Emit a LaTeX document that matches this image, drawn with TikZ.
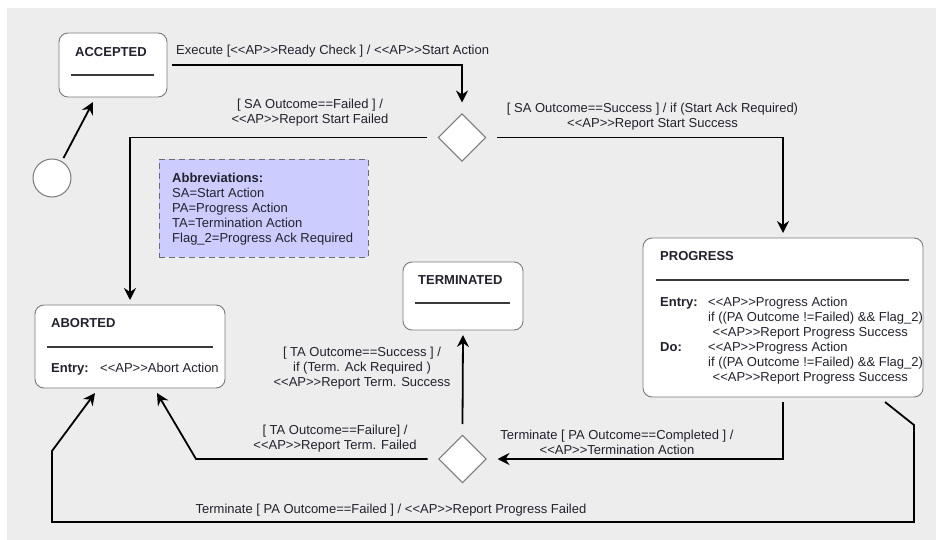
\documentclass[tikz,border=0pt]{standalone}
\usepackage{fontspec}
\setmainfont{Liberation Sans}
\usetikzlibrary{arrows.meta,shapes.geometric}

\definecolor{bg}{HTML}{EDEDED}
\definecolor{txt}{HTML}{22222E}
\definecolor{boxline}{HTML}{7A7A7A}
\definecolor{sepline}{HTML}{3A3A3A}
\definecolor{abbrfill}{HTML}{CCCCFF}
\definecolor{abbrline}{HTML}{6E6E6E}

\newcommand\lblfont{\fontsize{13}{15}\selectfont}
\newcommand\ap{<\kern0pt<AP>\kern0pt>}

\begin{document}
\begin{tikzpicture}[x=1pt,y=-1pt,
    statebox/.style={draw=boxline, fill=white, rounded corners=9pt, line width=0.9pt, inner sep=0pt, outer sep=5pt},
    choicebox/.style={diamond, draw=boxline, fill=white, line width=1pt, minimum size=54pt, inner sep=0pt, outer sep=8pt},
    initstate/.style={circle, draw=boxline, fill=white, line width=1pt, minimum size=38pt, inner sep=0pt, outer sep=4pt},
    abbrbox/.style={draw=abbrline, fill=abbrfill, dash pattern=on 6pt off 4pt, line width=0.9pt, inner sep=0pt},
    sep/.style={draw=sepline, line width=1.2pt},
    arr/.style={draw=black, line width=1.8pt, -{Stealth[length=12pt,width=12pt,inset=4pt]}},
    lbl/.style={text=txt, inner sep=0pt, font=\lblfont},
    stitle/.style={lbl, font=\lblfont\bfseries}]
    \useasboundingbox (0,0) rectangle (936,540);
    \fill[bg] (7,8) rectangle (936,540);

    % states
    \node[initstate] (init) at (52,178) {};
    \node[statebox, minimum width=108pt, minimum height=64pt] (accepted) at (113,65) {};
    \node[statebox, minimum width=190pt, minimum height=83pt] (aborted) at (130,346.5) {};
    \node[statebox, minimum width=280pt, minimum height=159pt] (progress) at (783,317.5) {};
    \node[statebox, minimum width=120pt, minimum height=68pt] (terminated) at (463,296) {};
    \node[choicebox] (dec1) at (462,137.5) {};
    \node[choicebox] (dec2) at (462.5,459) {};
    \node[abbrbox, minimum width=209pt, minimum height=98pt] (abbr) at (263.5,208) {};

    % state texts
    \node[stitle, anchor=base west] (accT) at (75,56.5) {ACCEPTED};
    \draw[sep] (71,75) -- (154,75);
    \node[stitle, anchor=base west] (abT) at (51,327.5) {ABORTED};
    \draw[sep] (47,347) -- (213,347);
    \node[stitle, anchor=base west] (abE) at (51,372.5) {Entry:};
    \node[lbl, anchor=base west] (abE1) at (100,372.5) {\ap Abort Action};
    \node[stitle, anchor=base west] (termT) at (418,284.5) {TERMINATED};
    \draw[sep] (415,303) -- (510,303);
    \node[stitle, anchor=base west] (progT) at (660,260.5) {PROGRESS};
    \draw[sep] (656,280) -- (909,280);
    \node[stitle, anchor=base west] (progE) at (660,306.5) {Entry:};
    \node[lbl, anchor=base west] (progE1) at (708,306.5) {\ap Progress Action};
    \node[lbl, anchor=base west] (progE2) at (708,321.5) {if ((PA Outcome !=Failed) \&\& Flag\_2)};
    \node[lbl, anchor=base west] (progE3) at (712.5,336.5) {\ap Report Progress Success};
    \node[stitle, anchor=base west] (progD) at (660,351.5) {Do:};
    \node[lbl, anchor=base west] (progD1) at (708,351.5) {\ap Progress Action};
    \node[lbl, anchor=base west] (progD2) at (708,366.5) {if ((PA Outcome !=Failed) \&\& Flag\_2)};
    \node[lbl, anchor=base west] (progD3) at (712.5,381.5) {\ap Report Progress Success};

    % abbreviations
    \node[stitle, anchor=base west] (abbrT) at (172,182.5) {Abbreviations:};
    \node[lbl, anchor=base west] (abbr1) at (172,197.5) {SA=Start Action};
    \node[lbl, anchor=base west] (abbr2) at (172,212.5) {PA=Progress Action};
    \node[lbl, anchor=base west] (abbr3) at (172,227.5) {TA=Termination Action};
    \node[lbl, anchor=base west] (abbr4) at (172,242.5) {Flag\_2=Progress Ack Required};

    % bend points
    \coordinate (k1) at (196,459);
    \coordinate (k2) at (914,425);
    \coordinate (k3) at (914,522);
    \coordinate (k4) at (52,522);
    \coordinate (k5) at (52,451);

    % transitions
    \draw[arr] (init.60) -- ([xshift=-20pt]accepted.south);
    \draw[arr] (accepted.east) -| (dec1.north);
    \draw[arr] (dec1.west) -| (aborted.north);
    \draw[arr] (dec1.east) -| (progress.north);
    \draw[arr] (progress.south) |- (dec2.east);
    \draw[arr] (dec2.north) -- (terminated.south);
    \draw[arr] (dec2.west) -- (k1) -- ([xshift=27pt]aborted.south);
    \draw[arr] ([xshift=102pt]progress.south) -- (k2) -- (k3) -- (k4) -- (k5) -- ([xshift=-35pt]aborted.south);

    % transition labels
    \node[lbl, anchor=base west] (lExec) at (176,55) {Execute [\ap Ready Check ] / \ap Start Action};
    \node[lbl, align=center] (lSAfail) at (310,113) {[ SA Outcome==Failed ] /\\\ap Report Start Failed};
    \node[lbl, align=center] (lSAok) at (652.5,116.5) {[ SA Outcome==Success ] / if (Start Ack Required)\\\ap Report Start Success};
    \node[lbl, align=center] (lTAok) at (362,368) {[ TA Outcome==Success ] /\\if (Term. Ack Required )\\\ap Report Term. Success};
    \node[lbl, align=center] (lPAdone) at (617,442) {Terminate [ PA Outcome==Completed ] /\\\ap Termination Action};
    \node[lbl, align=center] (lTAfail) at (335,439) {[ TA Outcome==Failure] /\\\ap Report Term. Failed};
    \node[lbl, anchor=base] (lPAfail) at (391,513.5) {Terminate [ PA Outcome==Failed ] / \ap Report Progress Failed};
\end{tikzpicture}
\end{document}
